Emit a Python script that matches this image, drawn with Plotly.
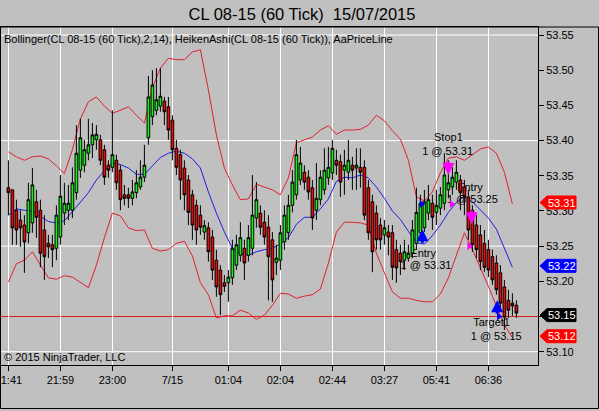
import plotly.graph_objects as go

# ---------------- data ----------------
bars = list(range(128))

ha_open = [53.333, 53.330, 53.301, 53.287, 53.280, 53.269, 53.283, 53.313, 53.301, 53.273,
           53.254, 53.252, 53.247, 53.263, 53.297, 53.301, 53.301, 53.326, 53.358, 53.365,
           53.382, 53.394, 53.401, 53.401, 53.387, 53.365, 53.362, 53.372, 53.358, 53.323,
           53.323, 53.318, 53.326, 53.334, 53.348, 53.404, 53.434, 53.443, 53.449, 53.456,
           53.448, 53.429, 53.389, 53.380, 53.361, 53.344, 53.323, 53.308, 53.294, 53.270,
           53.276, 53.263, 53.230, 53.216, 53.198, 53.198, 53.205, 53.223, 53.237, 53.247,
           53.237, 53.247, 53.290, 53.297, 53.284, 53.277, 53.259, 53.227, 53.230, 53.256,
           53.269, 53.308, 53.323, 53.344, 53.355, 53.348, 53.333, 53.301, 53.316, 53.330,
           53.347, 53.354, 53.372, 53.370, 53.358, 53.355, 53.365, 53.361, 53.362, 53.362,
           53.333, 53.313, 53.297, 53.280, 53.266, 53.270, 53.269, 53.245, 53.240, 53.230,
           53.233, 53.240, 53.254, 53.269, 53.276, 53.297, 53.311, 53.298, 53.304, 53.311,
           53.330, 53.334, 53.341, 53.344, 53.334, 53.320, 53.301, 53.280, 53.266, 53.254,
           53.245, 53.235, 53.226, 53.212, 53.192, 53.173, 53.169, 53.166]
ha_close = [53.326, 53.276, 53.273, 53.276, 53.256, 53.316, 53.337, 53.291, 53.240, 53.235,
            53.249, 53.245, 53.294, 53.321, 53.311, 53.311, 53.340, 53.382, 53.404, 53.387,
            53.394, 53.408, 53.409, 53.372, 53.348, 53.358, 53.380, 53.340, 53.316, 53.318,
            53.318, 53.327, 53.340, 53.348, 53.365, 53.462, 53.479, 53.458, 53.463, 53.441,
            53.415, 53.387, 53.362, 53.344, 53.323, 53.298, 53.280, 53.273, 53.277, 53.279,
            53.242, 53.216, 53.192, 53.181, 53.193, 53.206, 53.247, 53.252, 53.262, 53.226,
            53.262, 53.294, 53.316, 53.277, 53.263, 53.235, 53.202, 53.233, 53.269, 53.294,
            53.308, 53.341, 53.380, 53.368, 53.341, 53.327, 53.290, 53.318, 53.348, 53.358,
            53.362, 53.389, 53.365, 53.341, 53.365, 53.372, 53.358, 53.365, 53.355, 53.294,
            53.269, 53.242, 53.259, 53.259, 53.276, 53.263, 53.220, 53.219, 53.228, 53.242,
            53.240, 53.273, 53.298, 53.311, 53.313, 53.316, 53.291, 53.308, 53.323, 53.351,
            53.340, 53.348, 53.355, 53.326, 53.320, 53.273, 53.252, 53.245, 53.228, 53.220,
            53.216, 53.202, 53.188, 53.169, 53.149, 53.159, 53.165, 53.155]
ha_high = [53.372, 53.330, 53.316, 53.301, 53.294, 53.340, 53.361, 53.330, 53.316, 53.294,
           53.266, 53.266, 53.308, 53.351, 53.340, 53.337, 53.362, 53.422, 53.431, 53.401,
           53.431, 53.425, 53.422, 53.408, 53.394, 53.372, 53.443, 53.380, 53.365, 53.337,
           53.333, 53.344, 53.358, 53.372, 53.394, 53.492, 53.500, 53.503, 53.503, 53.462,
           53.462, 53.436, 53.401, 53.387, 53.372, 53.351, 53.330, 53.316, 53.308, 53.287,
           53.284, 53.273, 53.245, 53.223, 53.209, 53.216, 53.259, 53.266, 53.284, 53.259,
           53.280, 53.351, 53.341, 53.308, 53.301, 53.294, 53.270, 53.252, 53.280, 53.308,
           53.323, 53.358, 53.401, 53.391, 53.365, 53.358, 53.344, 53.368, 53.358, 53.389,
           53.391, 53.401, 53.387, 53.380, 53.387, 53.401, 53.377, 53.389, 53.389, 53.372,
           53.344, 53.323, 53.308, 53.290, 53.287, 53.280, 53.280, 53.259, 53.252, 53.259,
           53.252, 53.287, 53.333, 53.323, 53.330, 53.337, 53.323, 53.330, 53.334, 53.382,
           53.372, 53.362, 53.372, 53.351, 53.344, 53.330, 53.308, 53.294, 53.280, 53.273,
           53.259, 53.245, 53.237, 53.223, 53.202, 53.188, 53.183, 53.173]
ha_low = [53.294, 53.252, 53.252, 53.249, 53.212, 53.254, 53.269, 53.262, 53.220, 53.202,
          53.233, 53.220, 53.230, 53.252, 53.280, 53.287, 53.290, 53.316, 53.347, 53.355,
          53.372, 53.375, 53.387, 53.365, 53.337, 53.347, 53.355, 53.330, 53.301, 53.308,
          53.304, 53.308, 53.318, 53.330, 53.341, 53.394, 53.422, 53.436, 53.441, 53.422,
          53.401, 53.372, 53.351, 53.316, 53.301, 53.280, 53.259, 53.252, 53.266, 53.259,
          53.228, 53.202, 53.178, 53.152, 53.185, 53.171, 53.195, 53.216, 53.228, 53.202,
          53.228, 53.237, 53.276, 53.266, 53.252, 53.173, 53.171, 53.209, 53.216, 53.245,
          53.259, 53.298, 53.316, 53.337, 53.330, 53.316, 53.273, 53.287, 53.308, 53.323,
          53.337, 53.344, 53.351, 53.320, 53.323, 53.344, 53.330, 53.330, 53.333, 53.287,
          53.259, 53.213, 53.245, 53.245, 53.252, 53.237, 53.202, 53.198, 53.209, 53.216,
          53.228, 53.233, 53.245, 53.262, 53.270, 53.287, 53.273, 53.280, 53.294, 53.301,
          53.318, 53.323, 53.330, 53.301, 53.294, 53.259, 53.242, 53.233, 53.216, 53.213,
          53.206, 53.195, 53.181, 53.159, 53.131, 53.148, 53.151, 53.148]

band_bars = list(range(0, 128, 2))
bb_upper = [53.384, 53.377, 53.372, 53.377, 53.378, 53.374, 53.364, 53.353, 53.387, 53.431,
            53.455, 53.462, 53.449, 53.439, 53.443, 53.448, 53.436, 53.425, 53.475, 53.503,
            53.517, 53.515, 53.515, 53.526, 53.529, 53.472, 53.408, 53.361, 53.337, 53.316,
            53.317, 53.338, 53.334, 53.330, 53.323, 53.347, 53.397, 53.401, 53.405, 53.415,
            53.421, 53.409, 53.415, 53.415, 53.416, 53.422, 53.436, 53.428, 53.414, 53.402,
            53.372, 53.320, 53.314, 53.327, 53.354, 53.375, 53.377, 53.372, 53.380, 53.388,
            53.391, 53.382, 53.355, 53.310]
bb_middle = [53.294, 53.303, 53.301, 53.300, 53.292, 53.285, 53.283, 53.286, 53.299, 53.312,
             53.326, 53.344, 53.357, 53.368, 53.366, 53.361, 53.352, 53.352, 53.364, 53.376,
             53.382, 53.385, 53.382, 53.374, 53.361, 53.327, 53.297, 53.270, 53.247, 53.239,
             53.237, 53.242, 53.245, 53.247, 53.253, 53.262, 53.281, 53.291, 53.291, 53.303,
             53.317, 53.342, 53.348, 53.347, 53.351, 53.347, 53.334, 53.318, 53.300, 53.288,
             53.271, 53.255, 53.253, 53.265, 53.280, 53.298, 53.312, 53.321, 53.313, 53.302,
             53.290, 53.274, 53.246, 53.220]
bb_lower = [53.199, 53.225, 53.230, 53.242, 53.223, 53.205, 53.203, 53.208, 53.206, 53.199,
            53.191, 53.223, 53.262, 53.297, 53.293, 53.276, 53.272, 53.273, 53.247, 53.243,
            53.245, 53.254, 53.257, 53.236, 53.198, 53.181, 53.148, 53.151, 53.151, 53.159,
            53.155, 53.146, 53.152, 53.166, 53.183, 53.182, 53.176, 53.179, 53.181, 53.189,
            53.226, 53.270, 53.284, 53.284, 53.283, 53.280, 53.240, 53.212, 53.185, 53.176,
            53.176, 53.173, 53.171, 53.171, 53.182, 53.205, 53.237, 53.269, 53.245, 53.220,
            53.193, 53.165, 53.138, 53.120]

tick_bars = [0, 13, 26, 41, 55, 68, 81, 94, 107, 120]
tick_labels = ["21:41", "21:59", "23:00", "7/15", "01:04", "02:04", "02:44", "03:27", "05:41", "06:36"]
y_ticks = [53.10, 53.15, 53.20, 53.25, 53.30, 53.35, 53.40, 53.45, 53.50, 53.55]
grid_prices = [53.10, 53.25, 53.40, 53.55]
last_price = 53.15

tag_values = [53.31, 53.22, 53.15, 53.12]
tag_colors = ["#FF0000", "#0000FF", "#000000", "#FF0000"]

exec_bars = [103.3, 110.8, 115.2, 122.6]
exec_prices = [53.31, 53.31, 53.25, 53.15]
exec_colors = ["#0000FF", "#FF00FF", "#FF00FF", "#0000FF"]

arrow_bars = [103.5, 110.0, 115.8, 122.2]
arrow_tips = [53.274, 53.351, 53.281, 53.173]
arrow_up = [True, False, False, True]
arrow_colors = ["#0000FF", "#FF00FF", "#FF00FF", "#0000FF"]

label_texts = ["Stop1", "1 @ 53.31", "Entry", "1 @ 53.25", "Entry", "1 @ 53.31", "Target1", "1 @ 53.15"]
label_bars = [110.0, 109.8, 115.4, 116.0, 103.7, 104.4, 120.8, 121.95]
label_prices = [53.403, 53.384, 53.332, 53.3155, 53.239, 53.222, 53.140, 53.121]

# ---------------- layout constants ----------------
W, H = 599, 411
ML, MR, MT, MB = 1, 61, 27, 46
PW = W - ML - MR
PH = H - MT - MB
X_RANGE = [-1.85, 132.4]
Y_RANGE = [53.0811, 53.5614]
PX_PER_PRICE = PH / (Y_RANGE[1] - Y_RANGE[0])
FONT = "Arial, Liberation Sans, sans-serif"
BG = "#C0C0C0"
BAND_RED = "rgb(226,32,48)"
MID_BLUE = "rgb(30,30,230)"


def paper_x(px):
    return (px - ML) / PW


def paper_y(py):
    return (H - MB - py) / PH


fig = go.Figure()

# bands (under the candles)
fig.add_trace(go.Scatter(x=band_bars, y=bb_upper, mode="lines",
                         line=dict(color=BAND_RED, width=1), hoverinfo="skip"))
fig.add_trace(go.Scatter(x=band_bars, y=bb_lower, mode="lines",
                         line=dict(color=BAND_RED, width=1), hoverinfo="skip"))
fig.add_trace(go.Scatter(x=band_bars, y=bb_middle, mode="lines",
                         line=dict(color=MID_BLUE, width=1), hoverinfo="skip"))
# execution labels (under the candles)
fig.add_trace(go.Scatter(x=label_bars, y=label_prices, mode="text", text=label_texts,
                         textposition="middle center", cliponaxis=False,
                         textfont=dict(family=FONT, size=11, color="black"), hoverinfo="skip"))

# Heiken Ashi candles on an overlaid axis pair so they sit on top of the bands
fig.add_trace(go.Candlestick(
    x=bars, open=ha_open, high=ha_high, low=ha_low, close=ha_close,
    xaxis="x2", yaxis="y2", whiskerwidth=0,
    increasing=dict(fillcolor="#00FF00", line=dict(color="black", width=1)),
    decreasing=dict(fillcolor="#FF0000", line=dict(color="black", width=1)),
    hoverinfo="skip"))

# small execution triangles
fig.add_trace(go.Scatter(x=exec_bars, y=exec_prices, mode="markers", xaxis="x2", yaxis="y2",
                         marker=dict(symbol="triangle-right", size=7, color=exec_colors,
                                     line=dict(width=0)),
                         cliponaxis=False, hoverinfo="skip"))

shapes = []
for g in grid_prices:
    shapes.append(dict(type="line", xref="paper", x0=0, x1=1, yref="y", y0=g, y1=g,
                       line=dict(color="white", width=1), layer="below"))
shapes.append(dict(type="line", xref="paper", x0=0, x1=1, yref="y", y0=last_price, y1=last_price,
                   line=dict(color="rgb(222,30,30)", width=1), layer="below"))
# outer frame of the whole chart panel
shapes.append(dict(type="rect", xref="paper", yref="paper",
                   x0=paper_x(0.5), x1=paper_x(598.5), y0=paper_y(408.5), y1=1,
                   line=dict(color="black", width=1), fillcolor="rgba(0,0,0,0)", layer="above"))

annotations = []
# price tags on the axis
half = 6.5 / PX_PER_PRICE
xt, xl, xr = paper_x(540), paper_x(547), paper_x(576)
for v, col in zip(tag_values, tag_colors):
    yc = v + 0.002
    path = (f"M {xt},{yc} L {xl},{yc + half} L {xr},{yc + half} "
            f"L {xr},{yc - half} L {xl},{yc - half} Z")
    shapes.append(dict(type="path", xref="paper", yref="y", path=path,
                       fillcolor=col, line=dict(color=col, width=1), layer="above"))
    annotations.append(dict(xref="paper", yref="y", x=paper_x(561.5), y=yc, text=f"{v:.2f}",
                            showarrow=False, font=dict(family=FONT, size=11, color="white"),
                            xanchor="center", yanchor="middle"))

# execution arrows
for xb, tip, up, col in zip(arrow_bars, arrow_tips, arrow_up, arrow_colors):
    annotations.append(dict(xref="x", yref="y", x=xb, y=tip, ax=0, ay=(15 if up else -15),
                            text="", showarrow=True, arrowhead=2, arrowsize=0.8,
                            arrowwidth=3, arrowcolor=col, standoff=0))

annotations.append(dict(xref="paper", yref="paper", x=paper_x(2), y=paper_y(39),
                        text="Bollinger(CL 08-15 (60 Tick),2,14), HeikenAshi(CL 08-15 (60 Tick)), AaPriceLine",
                        showarrow=False, xanchor="left", yanchor="middle",
                        font=dict(family=FONT, size=11, color="black")))
annotations.append(dict(xref="paper", yref="paper", x=paper_x(2), y=paper_y(357),
                        text="© 2015 NinjaTrader, LLC",
                        showarrow=False, xanchor="left", yanchor="middle",
                        font=dict(family=FONT, size=11, color="black")))

# the 53.15 axis label sits under the black last-price tag in the reference
y_tick_text = ["" if abs(v - last_price) < 1e-9 else f"{v:.2f}" for v in y_ticks]

axis_font = dict(family=FONT, size=11, color="black")
fig.update_layout(
    width=W, height=H,
    margin=dict(l=ML, r=MR, t=MT, b=MB, pad=0, autoexpand=False),
    paper_bgcolor=BG, plot_bgcolor=BG,
    showlegend=False, hovermode=False,
    boxgap=0.05,
    title=dict(text="CL 08-15 (60 Tick)  15/07/2015", xref="container", yref="container",
               x=302 / W, y=1 - 14 / H, xanchor="center", yanchor="middle",
               font=dict(family=FONT, size=16.5, color="black")),
    xaxis=dict(range=X_RANGE, tickmode="array", tickvals=tick_bars, ticktext=tick_labels,
               ticks="outside", ticklen=5, tickcolor="black", tickwidth=1, tickfont=axis_font,
               ticklabeloverflow="allow",
               showgrid=True, gridcolor="white", gridwidth=1,
               showline=True, linecolor="black", linewidth=1, mirror=True,
               zeroline=False, fixedrange=True, rangeslider=dict(visible=False)),
    yaxis=dict(range=Y_RANGE, side="right", tickmode="array", tickvals=y_ticks,
               ticktext=y_tick_text, ticks="outside", ticklen=5, tickcolor="black", tickwidth=1,
               tickfont=axis_font, showgrid=False,
               showline=True, linecolor="black", linewidth=1, mirror=True,
               zeroline=False, fixedrange=True),
    xaxis2=dict(range=X_RANGE, overlaying="x", visible=False, fixedrange=True,
                rangeslider=dict(visible=False)),
    yaxis2=dict(range=Y_RANGE, overlaying="y", visible=False, fixedrange=True),
    shapes=shapes,
    annotations=annotations,
)

# remove the page's default body margin so the chart sits at the window's top-left corner
fig.write_html("out.html", config={"displayModeBar": False, "staticPlot": True},
               post_script="document.body.style.margin='0px';document.body.style.padding='0px';"
                           "document.body.style.overflow='hidden';")
